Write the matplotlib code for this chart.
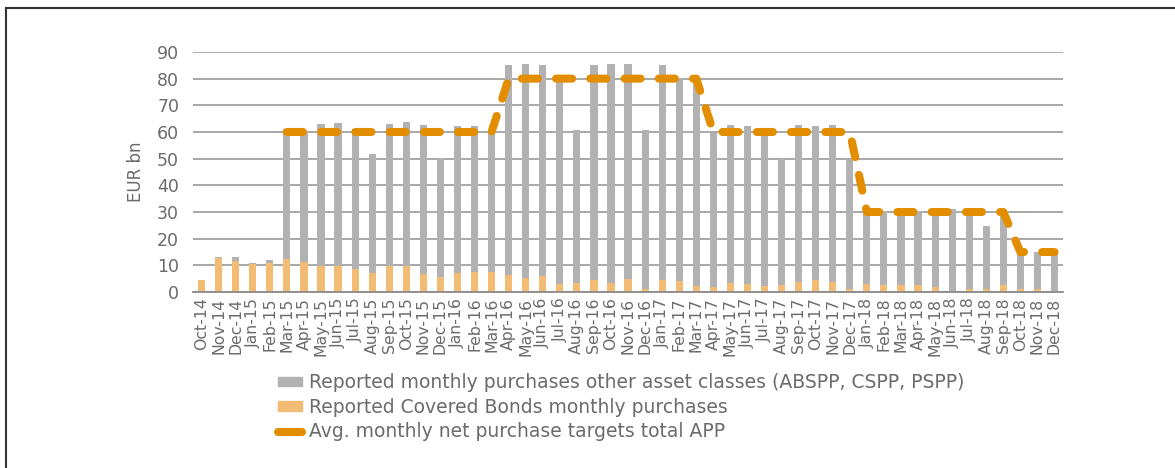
import matplotlib.pyplot as plt
import matplotlib.patches as mpatches
import matplotlib.lines as mlines
import numpy as np

months = ["Oct-14", "Nov-14", "Dec-14", "Jan-15", "Feb-15", "Mar-15", "Apr-15", "May-15",
          "Jun-15", "Jul-15", "Aug-15", "Sep-15", "Oct-15", "Nov-15", "Dec-15", "Jan-16",
          "Feb-16", "Mar-16", "Apr-16", "May-16", "Jun-16", "Jul-16", "Aug-16", "Sep-16",
          "Oct-16", "Nov-16", "Dec-16", "Jan-17", "Feb-17", "Mar-17", "Apr-17", "May-17",
          "Jun-17", "Jul-17", "Aug-17", "Sep-17", "Oct-17", "Nov-17", "Dec-17", "Jan-18",
          "Feb-18", "Mar-18", "Apr-18", "May-18", "Jun-18", "Jul-18", "Aug-18", "Sep-18",
          "Oct-18", "Nov-18", "Dec-18"]

# covered bonds purchases (bottom of stack)
covered = [4.6, 12.9, 11.7, 10.5, 10.8, 12.5, 11.3, 9.9, 9.9, 8.7, 7.2, 9.9, 9.9, 6.6, 5.6, 7.1,
           7.6, 7.6, 6.5, 5.4, 6.0, 3.0, 3.4, 4.6, 3.4, 4.9, 1.2, 4.6, 4.2, 2.2, 1.9, 3.5,
           3.1, 2.2, 2.5, 3.7, 4.5, 3.7, 1.2, 3.1, 2.7, 2.7, 2.6, 1.9, 0.5, 1.2, 1.1, 2.5,
           1.2, 1.2, 0.5]

# other asset classes (ABSPP, CSPP, PSPP)
other = [0.0, 0.2, 1.4, 0.5, 1.2, 48.6, 49.2, 53.2, 53.4, 52.6, 44.4, 53.2, 53.9, 56.0, 44.5, 55.2,
         54.5, 52.9, 78.7, 80.0, 79.2, 77.4, 57.3, 80.6, 82.1, 80.6, 59.5, 80.4, 76.2, 77.8, 57.6, 59.0,
         59.2, 58.3, 47.4, 58.9, 57.8, 58.9, 48.7, 27.1, 27.5, 27.3, 27.7, 28.0, 30.5, 28.7, 23.5, 26.0,
         13.8, 13.9, 14.0]

# avg. monthly net purchase target total APP
target = [np.nan] * 5 + [60] * 13 + [80] * 12 + [60] * 9 + [30] * 9 + [15] * 3

grey = "#B2B2B2"
light_orange = "#F2BC74"
dark_orange = "#E38D00"
text_col = "#6B6B6B"

fig = plt.figure(figsize=(11.75, 4.68), dpi=100)
ax = fig.add_axes([0.1643, 0.376, 0.9047 - 0.1643, 0.889 - 0.376])

x = np.arange(len(months))
ax.bar(x, covered, width=0.42, color=light_orange, zorder=2)
ax.bar(x, other, width=0.42, bottom=covered, color=grey, zorder=2)
ax.plot(x, target, color=dark_orange, lw=5.8, dashes=(2.0, 2.25),
        dash_capstyle="round", solid_capstyle="round", zorder=3)

ax.set_xlim(-0.5, len(months) - 0.5)
ax.set_ylim(0, 90)
ax.set_yticks(range(0, 91, 10))
ax.set_xticks(x)
ax.set_xticklabels(months, rotation=90)
ax.tick_params(axis="x", length=0, labelsize=11.3, labelcolor=text_col, pad=4)
ax.tick_params(axis="y", length=0, labelsize=12.5, labelcolor=text_col, pad=10)
ax.grid(axis="y", color="#9A9A9A", lw=1.2, zorder=0)
for s in ["top", "right", "left"]:
    ax.spines[s].set_visible(False)
ax.spines["bottom"].set_color("#8A8A8A")
ax.spines["bottom"].set_linewidth(1.3)
ax.set_ylabel("EUR bn", color=text_col, fontsize=12, labelpad=9)

handles = [
    mpatches.Patch(color=grey, label="Reported monthly purchases other asset classes (ABSPP, CSPP, PSPP)"),
    mpatches.Patch(color=light_orange, label="Reported Covered Bonds monthly purchases"),
    mlines.Line2D([], [], color=dark_orange, lw=5.8, solid_capstyle="round",
                  label="Avg. monthly net purchase targets total APP"),
]
fig.legend(handles=handles, loc="upper left", bbox_to_anchor=(278 / 1175, 1 - 373 / 468),
           frameon=False, fontsize=13.5, labelcolor=text_col, handlelength=1.3,
           handleheight=0.4, handletextpad=0.35, labelspacing=0.3, borderaxespad=0,
           borderpad=0)

# outer frame
fig.add_artist(mlines.Line2D([6 / 1175, 6 / 1175], [0, 1 - 8 / 468], color="#333333", lw=1.5,
                             transform=fig.transFigure))
fig.add_artist(mlines.Line2D([6 / 1175, 1], [1 - 8 / 468, 1 - 8 / 468], color="#333333", lw=1.5,
                             transform=fig.transFigure))

fig.savefig("out.png", dpi=100)
